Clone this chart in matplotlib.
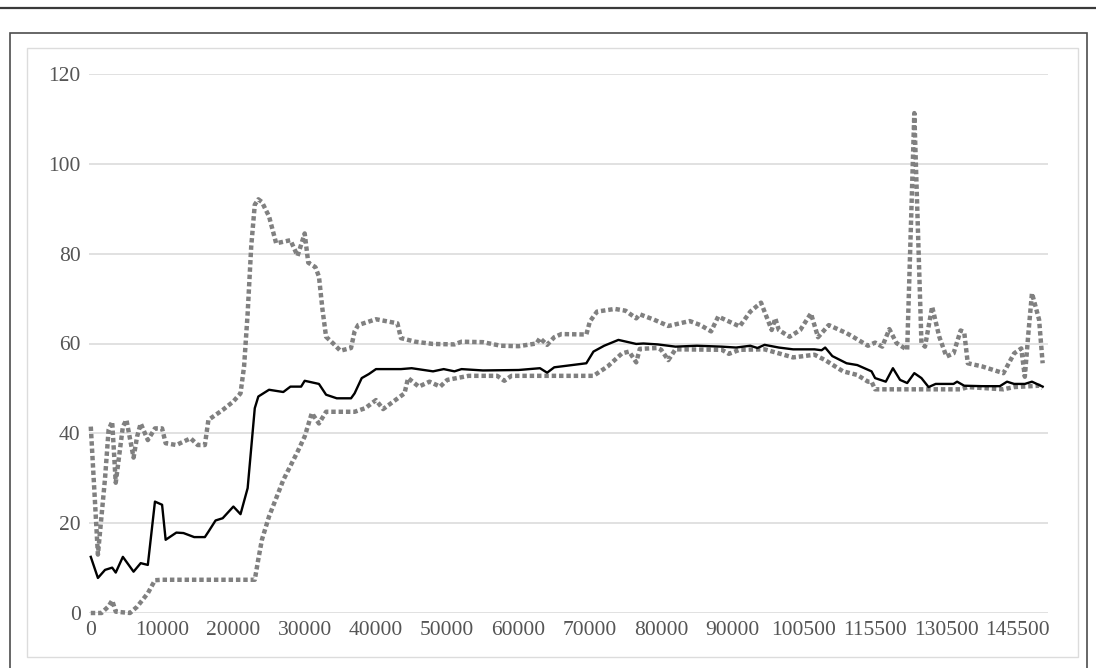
import matplotlib
matplotlib.use("Agg")
import matplotlib.pyplot as plt
from matplotlib.lines import Line2D
from matplotlib.patches import Rectangle

# category labels shown on the x axis (one every 20 categories)
x_labels = ["0", "10000", "20000", "30000", "40000", "50000", "60000", "70000",
            "80000", "90000", "100500", "115500", "130500", "145500"]
n_categories = 269

# (category index, value)
mean_pts = [
    (0, 12.5), (2, 7.8), (4, 9.6), (6, 10.1), (7, 9.0), (9, 12.5), (12, 9.2),
    (14, 11.1), (16, 10.7), (18, 24.8), (20, 24.1), (21, 16.3), (24, 17.9),
    (26, 17.8), (29, 16.9), (32, 16.9), (33, 18.1), (35, 20.6), (37, 21.1),
    (40, 23.7), (42, 22.0), (44, 27.8), (46, 45.6), (47, 48.2), (50, 49.7),
    (54, 49.2), (56, 50.4), (59, 50.4), (60, 51.7), (64, 51.0), (66, 48.6),
    (69, 47.8), (73, 47.8), (74, 48.9), (76, 52.3), (78, 53.2), (80, 54.3),
    (87, 54.3), (90, 54.5), (96, 53.8), (99, 54.3), (102, 53.8), (104, 54.3),
    (110, 54.0), (120, 54.1), (126, 54.5), (128, 53.5), (130, 54.7), (135, 55.2),
    (139, 55.6), (141, 58.2), (144, 59.5), (148, 60.8), (153, 59.9), (155, 60.0),
    (159, 59.8), (164, 59.3), (170, 59.5), (177, 59.3), (181, 59.1), (185, 59.5),
    (187, 59.0), (189, 59.7), (193, 59.1), (197, 58.7), (203, 58.7), (205, 58.5),
    (206, 59.1), (208, 57.2), (212, 55.6), (215, 55.2), (219, 53.8), (220, 52.3),
    (223, 51.5), (225, 54.5), (227, 51.9), (229, 51.2), (231, 53.4), (233, 52.3),
    (235, 50.3), (237, 51.0), (242, 51.0), (243, 51.5), (245, 50.6), (250, 50.5),
    (255, 50.5), (257, 51.5), (259, 51.0), (262, 51.0), (264, 51.5), (267, 50.4),
]

upper_pts = [
    (0, 41.5), (2, 13.0), (4, 30.0), (5, 40.8), (6, 42.6), (7, 29.0), (9, 41.5),
    (10, 43.0), (12, 34.6), (13, 39.3), (14, 42.2), (16, 38.5), (18, 41.1),
    (20, 41.1), (21, 37.8), (24, 37.4), (28, 38.9), (30, 37.4), (32, 37.4),
    (33, 43.0), (37, 45.2), (40, 47.1), (42, 48.9), (43, 54.9), (44, 66.7),
    (45, 81.6), (46, 90.9), (47, 92.1), (48, 91.5), (50, 88.3), (52, 82.3),
    (56, 83.0), (58, 79.5), (60, 84.5), (61, 78.0), (63, 77.0), (64, 74.9),
    (65, 67.5), (66, 61.5), (68, 60.0), (70, 58.4), (73, 59.0), (74, 62.7),
    (75, 64.1), (80, 65.4), (86, 64.5), (87, 61.2), (91, 60.4), (96, 59.9),
    (102, 59.8), (104, 60.4), (110, 60.3), (115, 59.5), (120, 59.4), (125, 60.0),
    (126, 61.2), (128, 59.7), (130, 61.4), (132, 62.1), (139, 62.0), (140, 64.9),
    (142, 67.1), (147, 67.7), (150, 67.3), (153, 65.6), (154, 66.5), (158, 65.3),
    (162, 63.9), (168, 65.0), (171, 64.1), (174, 62.7), (176, 66.0), (182, 63.8),
    (185, 67.1), (188, 69.1), (191, 63.0), (192, 65.6), (193, 63.0), (196, 61.5),
    (199, 63.0), (202, 66.7), (204, 61.4), (207, 64.1), (212, 62.3), (214, 61.4),
    (218, 59.5), (220, 60.2), (222, 59.3), (224, 63.2), (226, 60.1), (229, 58.6),
    (231, 111.3), (233, 60.1), (234, 59.3), (236, 68.2), (238, 61.5), (240, 57.1),
    (242, 57.8), (244, 62.9), (245, 62.5), (246, 55.6), (250, 54.9), (256, 53.4),
    (259, 57.8), (261, 58.9), (262, 52.6), (263, 62.3), (264, 71.2), (266, 65.3),
    (267, 55.6),
]

lower_pts = [
    (0, 0.0), (3, 0.0), (5, 1.5), (6, 2.8), (7, 0.3), (11, 0.0), (13, 1.4),
    (16, 4.4), (18, 7.3), (20, 7.4), (46, 7.4), (47, 12.0), (48, 16.3),
    (50, 21.5), (54, 29.6), (58, 35.9), (60, 39.3), (62, 44.5), (64, 42.2),
    (66, 44.8), (74, 44.8), (77, 45.6), (80, 47.4), (82, 45.4), (88, 48.9),
    (89, 52.3), (92, 50.4), (95, 51.5), (98, 50.4), (100, 51.9), (106, 52.8),
    (114, 52.8), (116, 51.7), (118, 52.8), (141, 52.8), (145, 54.9), (149, 57.8),
    (151, 58.2), (153, 55.8), (154, 58.8), (159, 59.0), (160, 58.6), (162, 56.3),
    (164, 58.7), (177, 58.6), (179, 57.7), (182, 58.6), (189, 58.7), (193, 57.8),
    (197, 56.9), (203, 57.5), (206, 56.3), (211, 53.8), (215, 53.0), (218, 51.5),
    (219, 51.5), (220, 49.8), (244, 49.8), (246, 50.3), (256, 49.8), (259, 50.3),
    (266, 50.6), (267, 50.1),
]

W, H = 1096, 668
fig = plt.figure(figsize=(W / 100, H / 100), dpi=100)

# page decorations: rule at the top, frame round the chart
fig.add_artist(Line2D([0, 1], [1 - 8 / H, 1 - 8 / H], transform=fig.transFigure,
                      color="#3a3a3a", linewidth=1.6))
fig.add_artist(Rectangle((10 / W, -0.02), (1087 - 10) / W, 1 - 33 / H + 0.02,
                         transform=fig.transFigure, fill=False,
                         edgecolor="#4d4d4d", linewidth=1.2))
fig.add_artist(Rectangle((27 / W, 1 - 657 / H), (1078 - 27) / W, (657 - 48) / H,
                         transform=fig.transFigure, fill=False,
                         edgecolor="#dcdcdc", linewidth=1.0))

ax = fig.add_axes([89 / W, 1 - 613 / H, (1048 - 89) / W, (613 - 74) / H])

dotted = dict(color="#808080", linewidth=3.2, linestyle=(0, (1, 0.65)),
              clip_on=False, zorder=3)
for pts in (upper_pts, lower_pts):
    xs, ys = zip(*pts)
    ax.plot(xs, ys, **dotted)
xs, ys = zip(*mean_pts)
ax.plot(xs, ys, color="black", linewidth=1.7, clip_on=False, zorder=4)

ax.set_xlim(-0.5, n_categories - 0.5)
ax.set_ylim(0, 120)
ax.set_yticks(range(0, 121, 20))
ax.set_xticks(range(0, 20 * len(x_labels), 20), x_labels)
ax.grid(axis="y", color="#d9d9d9", linewidth=1.1)
ax.set_axisbelow(True)
for side in ("top", "right", "left", "bottom"):
    ax.spines[side].set_visible(False)
ax.tick_params(length=0, labelcolor="#555555", labelsize=15.5)
ax.tick_params(axis="y", pad=6)
ax.tick_params(axis="x", pad=6)
for lab in ax.get_xticklabels() + ax.get_yticklabels():
    lab.set_fontfamily("Liberation Serif")

fig.savefig("out.png", dpi=100)
